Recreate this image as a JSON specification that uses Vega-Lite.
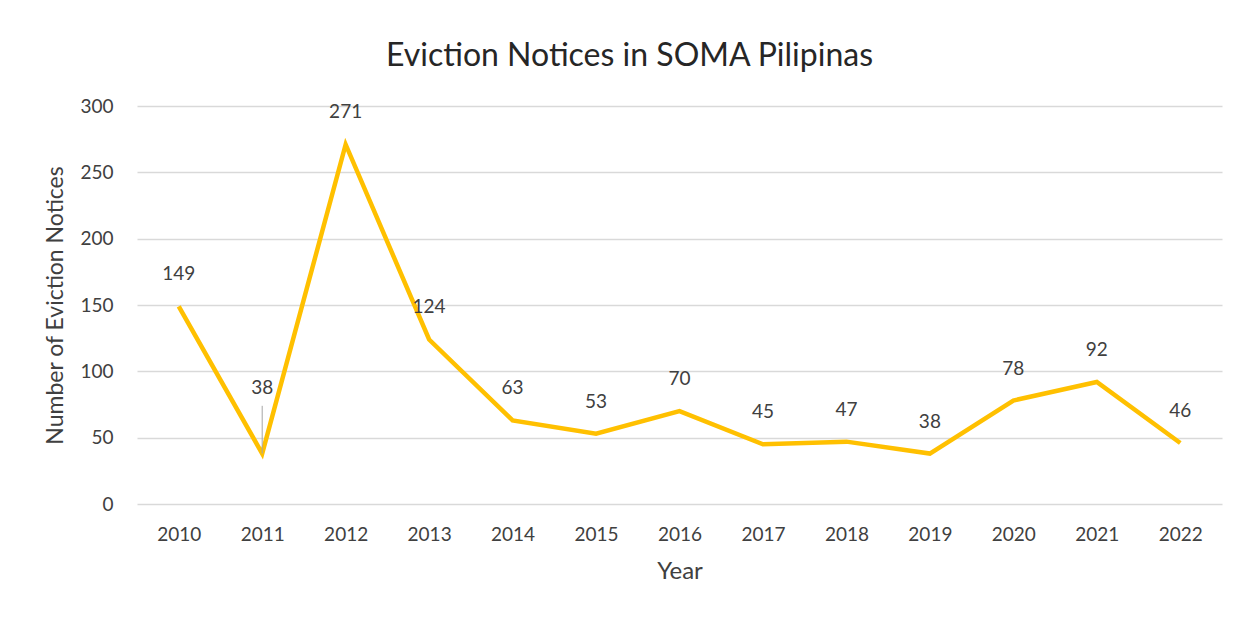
{
  "$schema": "https://vega.github.io/schema/vega-lite/v6.json",
  "autosize": "none",
  "width": 1085,
  "height": 398,
  "padding": {"left": 137, "top": 106, "right": 30, "bottom": 116},
  "background": "white",
  "title": {
    "text": "Eviction Notices in SOMA Pilipinas",
    "font": "Lato",
    "fontSize": 32,
    "fontWeight": "normal",
    "color": "#262626",
    "anchor": "middle",
    "dx": -50,
    "offset": 24
  },
  "config": {
    "view": {"stroke": null},
    "font": "Lato"
  },
  "data": {
    "values": [
      {"Year": "2010", "Notices": 149},
      {"Year": "2011", "Notices": 38},
      {"Year": "2012", "Notices": 271},
      {"Year": "2013", "Notices": 124},
      {"Year": "2014", "Notices": 63},
      {"Year": "2015", "Notices": 53},
      {"Year": "2016", "Notices": 70},
      {"Year": "2017", "Notices": 45},
      {"Year": "2018", "Notices": 47},
      {"Year": "2019", "Notices": 38},
      {"Year": "2020", "Notices": 78},
      {"Year": "2021", "Notices": 92},
      {"Year": "2022", "Notices": 46}
    ]
  },
  "encoding": {
    "x": {
      "field": "Year",
      "type": "ordinal",
      "scale": {"type": "point", "padding": 0.5},
      "axis": {
        "title": "Year",
        "labelAngle": 0,
        "labelFont": "Lato",
        "labelFontSize": 19,
        "labelColor": "#404040",
        "labelPadding": 21,
        "ticks": false,
        "domain": false,
        "grid": false,
        "titleFont": "Lato",
        "titleFontSize": 24,
        "titleFontWeight": "normal",
        "titleColor": "#404040",
        "titlePadding": 15
      }
    },
    "y": {
      "field": "Notices",
      "type": "quantitative",
      "scale": {"domain": [0, 300], "nice": false},
      "axis": {
        "title": "Number of Eviction Notices",
        "values": [0, 50, 100, 150, 200, 250, 300],
        "labelFont": "Lato",
        "labelFontSize": 19,
        "labelColor": "#404040",
        "labelPadding": 24,
        "ticks": false,
        "domain": false,
        "grid": true,
        "gridColor": "#d9d9d9",
        "gridWidth": 1.5,
        "titleFont": "Lato",
        "titleFontSize": 23,
        "titleFontWeight": "normal",
        "titleColor": "#404040",
        "titlePadding": 12
      }
    }
  },
  "layer": [
    {
      "mark": {"type": "line", "color": "#FFC000", "strokeWidth": 4.5, "strokeJoin": "miter"}
    },
    {
      "transform": [{"filter": "datum.Year != '2011'"}],
      "mark": {"type": "text", "dy": -32, "font": "Lato", "fontSize": 19, "color": "#404040"},
      "encoding": {"text": {"field": "Notices", "type": "quantitative"}}
    },
    {
      "transform": [{"filter": "datum.Year == '2011'"}],
      "mark": {"type": "text", "dy": -66, "font": "Lato", "fontSize": 19, "color": "#404040"},
      "encoding": {"text": {"field": "Notices", "type": "quantitative"}}
    },
    {
      "transform": [{"filter": "datum.Year == '2011'"}],
      "mark": {"type": "rule", "color": "#a6a6a6", "strokeWidth": 1},
      "encoding": {"y2": {"datum": 74}}
    }
  ]
}
